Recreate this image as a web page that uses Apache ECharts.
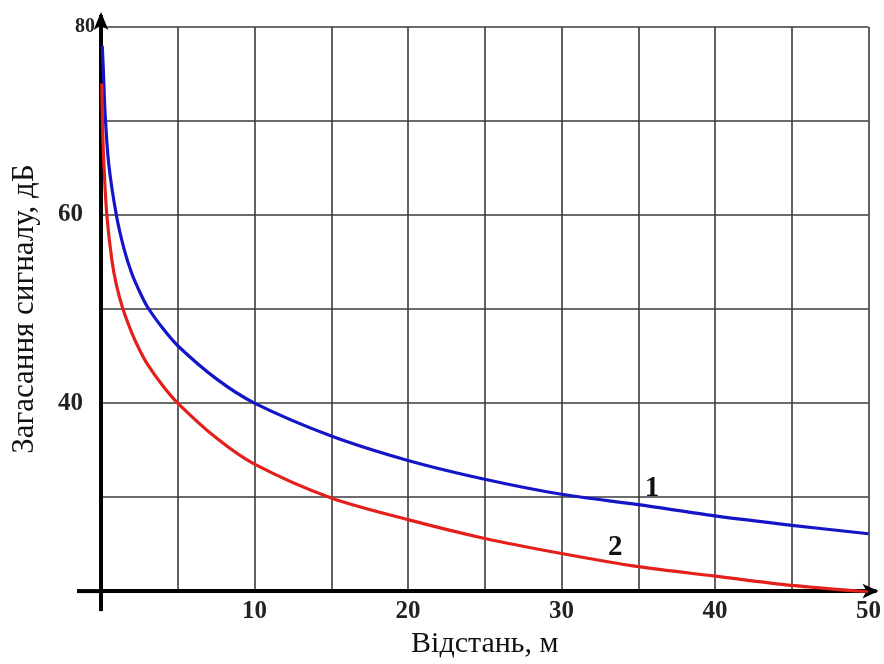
<!DOCTYPE html>
<html>
<head>
<meta charset="utf-8">
<script src="https://cdn.jsdelivr.net/npm/echarts@6/dist/echarts.min.js"></script>
<style>
html,body{margin:0;padding:0;background:#fff;}
#chart{width:884px;height:664px;}
</style>
</head>
<body>
<div id="chart"></div>
<script>
// Curve 1 (blue)
const distance1 = [0.08, 0.15, 0.26, 0.5, 1, 1.5, 2, 2.5, 3, 4, 5, 7.5, 10, 15, 20, 25, 30, 35, 40, 45, 50];
const loss1     = [78, 75.5, 71, 65.5, 60, 56.4, 53.8, 51.9, 50.3, 48, 46.1, 42.6, 40, 36.5, 33.9, 31.9, 30.3, 29.2, 28, 27, 26.1];
// Curve 2 (red)
const distance2 = [0.05, 0.1, 0.2, 0.38, 0.7, 1, 1.43, 2, 2.5, 3, 4, 5, 7.5, 10, 15, 20, 25, 30, 35, 40, 45, 50];
const loss2     = [74, 69.5, 65, 60, 55.3, 52.6, 50, 47.5, 45.7, 44.2, 41.9, 40, 36.3, 33.5, 29.9, 27.6, 25.6, 24, 22.6, 21.6, 20.6, 19.9];
// Curve labels
const curveNames = ['1', '2'];
const curveLabelPos = [[35.9, 30.9], [33.5, 24.6]];
// Tick labels
const xTickLabels = [10, 20, 30, 40, 50];
const yTickLabels = [40, 60, 80];
const xTitle = 'Відстань, м';
const yTitle = 'Загасання сигналу, дБ';

const serif = '"Liberation Serif", "DejaVu Serif", serif';

function zip(a, b) { return a.map((v, i) => [v, b[i]]); }

const chart = echarts.init(document.getElementById('chart'));
const option = {
  animation: false,
  backgroundColor: '#fff',
  grid: { left: 101, right: 15, top: 27, bottom: 69, containLabel: false },
  xAxis: {
    type: 'value', min: 0, max: 50, interval: 5,
    name: xTitle, nameLocation: 'middle', nameGap: 36,
    nameTextStyle: { fontFamily: serif, fontSize: 30, color: '#111' },
    axisLine: { show: true, onZero: false, lineStyle: { color: '#000', width: 4 },
      symbol: ['none', 'arrow'], symbolSize: [11, 16], symbolOffset: [0, 10] },
    axisTick: { show: false },
    axisLabel: {
      margin: 8, fontFamily: serif, fontWeight: 'bold', fontSize: 25, color: '#222',
      formatter: v => xTickLabels.includes(v) ? String(v) : ''
    },
    splitLine: { show: true, lineStyle: { color: '#3a3a3a', width: 1.6 } }
  },
  yAxis: {
    type: 'value', min: 20, max: 80, interval: 10,
    name: yTitle, nameLocation: 'middle', nameGap: 61, nameRotate: 90,
    nameTextStyle: { fontFamily: serif, fontSize: 31, color: '#111' },
    axisLine: { show: true, onZero: false, lineStyle: { color: '#000', width: 4 },
      symbol: ['none', 'arrow'], symbolSize: [11, 18], symbolOffset: [0, 15] },
    axisTick: { show: false },
    axisLabel: {
      margin: 18, fontFamily: serif, fontWeight: 'bold', fontSize: 25, color: '#222',
      formatter: v => yTickLabels.includes(v) ? (v === 80 ? '{s|' + v + '}' : String(v)) : '',
      rich: { s: { fontFamily: serif, fontWeight: 'bold', fontSize: 20, color: '#222', padding: [0, -12, 0, 0] } }
    },
    splitLine: { show: true, lineStyle: { color: '#3a3a3a', width: 1.6 } }
  },
  series: [
    {
      name: curveNames[0], type: 'line', data: zip(distance1, loss1),
      smooth: 0.3, showSymbol: false, symbol: 'none',
      lineStyle: { color: '#1515c8', width: 3.2 }, z: 3,
      markPoint: {
        symbol: 'circle', symbolSize: 0,
        data: [{ coord: curveLabelPos[0], value: curveNames[0] }],
        label: { show: true, formatter: curveNames[0], fontFamily: serif, fontWeight: 'bold', fontSize: 29, color: '#111' }
      }
    },
    {
      name: curveNames[1], type: 'line', data: zip(distance2, loss2),
      smooth: 0.3, showSymbol: false, symbol: 'none',
      lineStyle: { color: '#e3201b', width: 3.2 }, z: 3,
      markPoint: {
        symbol: 'circle', symbolSize: 0,
        data: [{ coord: curveLabelPos[1], value: curveNames[1] }],
        label: { show: true, formatter: curveNames[1], fontFamily: serif, fontWeight: 'bold', fontSize: 29, color: '#111' }
      }
    }
  ]
};
chart.setOption(option);

// extend axis lines beyond the plot edges (origin cross & arrow stems)
const pOrigin = chart.convertToPixel({ gridIndex: 0 }, [0, 20]);
const pTop = chart.convertToPixel({ gridIndex: 0 }, [0, 80]);
const pRight = chart.convertToPixel({ gridIndex: 0 }, [50, 20]);
chart.setOption({
  graphic: [
    { type: 'line', shape: { x1: pOrigin[0] - 24, y1: pOrigin[1], x2: pOrigin[0], y2: pOrigin[1] }, style: { stroke: '#000', lineWidth: 4 }, z: 10 },
    { type: 'line', shape: { x1: pOrigin[0], y1: pOrigin[1], x2: pOrigin[0], y2: pOrigin[1] + 20 }, style: { stroke: '#000', lineWidth: 4 }, z: 10 },
    { type: 'line', shape: { x1: pTop[0], y1: pTop[1], x2: pTop[0], y2: pTop[1] - 12 }, style: { stroke: '#000', lineWidth: 4 }, z: 10 },
    { type: 'line', shape: { x1: pRight[0], y1: pRight[1], x2: pRight[0] + 8, y2: pRight[1] }, style: { stroke: '#000', lineWidth: 4 }, z: 10 }
  ]
});
</script>
</body>
</html>
